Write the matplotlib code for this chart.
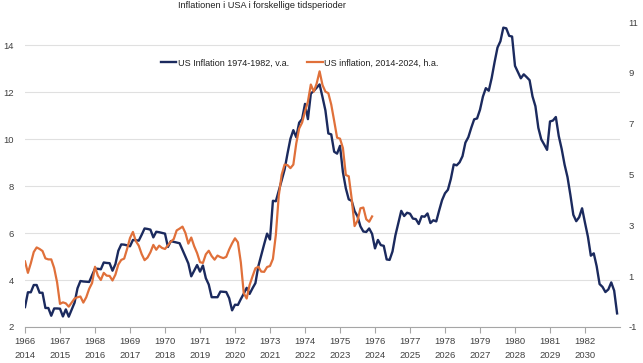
import matplotlib.pyplot as plt
import numpy as np

# US CPI inflation y/y, monthly, Jul 1966 - Jun 1983 (left axis)
us_infl_70s = [
    2.85, 3.48, 3.48, 3.79, 3.79, 3.46,
    3.46, 2.81, 2.81, 2.48, 2.79, 2.79, 2.78, 2.45, 2.75, 2.44, 2.74, 3.04,
    3.65, 3.96, 3.94, 3.93, 3.92, 4.20, 4.49, 4.48, 4.46, 4.75, 4.73, 4.72,
    4.40, 4.68, 5.25, 5.52, 5.51, 5.48, 5.44, 5.71, 5.70, 5.68, 5.93, 6.20,
    6.18, 6.15, 5.82, 6.06, 6.04, 6.01, 5.98, 5.41, 5.66, 5.63, 5.60, 5.57,
    5.29, 5.00, 4.71, 4.16, 4.40, 4.64, 4.36, 4.62, 4.08, 3.81, 3.27, 3.27,
    3.27, 3.51, 3.50, 3.49, 3.23, 2.71, 2.95, 2.94, 3.19, 3.42, 3.67, 3.41,
    3.65, 3.87, 4.59, 5.06, 5.53, 5.98, 5.73, 7.38, 7.36, 7.80, 8.25, 8.71,
    9.39, 10.02, 10.39, 10.09, 10.71, 10.86, 11.51, 10.86, 11.95, 12.06, 12.20, 12.34,
    11.80, 11.23, 10.25, 10.21, 9.47, 9.39, 9.72, 8.60, 7.91, 7.44, 7.38, 6.94,
    6.72, 6.29, 6.07, 6.05, 6.20, 5.97, 5.35, 5.71, 5.49, 5.46, 4.88, 4.86,
    5.22, 5.91, 6.44, 6.95, 6.73, 6.87, 6.83, 6.62, 6.60, 6.39, 6.72, 6.70,
    6.84, 6.43, 6.55, 6.50, 6.97, 7.41, 7.70, 7.85, 8.31, 8.93, 8.89, 9.02,
    9.28, 9.86, 10.09, 10.49, 10.85, 10.89, 11.26, 11.82, 12.18, 12.07, 12.61, 13.29,
    13.91, 14.18, 14.76, 14.73, 14.41, 14.38, 13.13, 12.87, 12.60, 12.77, 12.65, 12.52,
    11.83, 11.41, 10.49, 10.00, 9.78, 9.55, 10.76, 10.80, 10.95, 10.14, 9.59, 8.92,
    8.39, 7.62, 6.78, 6.51, 6.68, 7.06, 6.44, 5.85, 5.04, 5.14, 4.59, 3.83,
    3.71, 3.49, 3.60, 3.90, 3.55, 2.58,
]

# US CPI inflation y/y, monthly, Jan 2014 - Dec 2023 (right axis)
us_infl_recent = [
    1.58, 1.13, 1.51, 1.95, 2.13, 2.07, 1.99, 1.70, 1.66, 1.66, 1.32, 0.76,
    -0.09, -0.03, -0.07, -0.20, -0.04, 0.12, 0.17, 0.20, -0.04, 0.17, 0.50, 0.73,
    1.37, 1.02, 0.85, 1.13, 1.02, 1.01, 0.83, 1.06, 1.46, 1.64, 1.69, 2.07,
    2.50, 2.74, 2.38, 2.20, 1.87, 1.63, 1.73, 1.94, 2.23, 2.04, 2.20, 2.11,
    2.07, 2.21, 2.36, 2.46, 2.80, 2.87, 2.95, 2.70, 2.28, 2.52, 2.18, 1.91,
    1.55, 1.52, 1.86, 2.00, 1.79, 1.65, 1.81, 1.75, 1.71, 1.76, 2.05, 2.29,
    2.49, 2.33, 1.54, 0.33, 0.12, 0.65, 0.99, 1.31, 1.37, 1.18, 1.17, 1.36,
    1.40, 1.68, 2.62, 4.16, 4.99, 5.39, 5.37, 5.25, 5.39, 6.22, 6.81, 7.04,
    7.48, 7.87, 8.54, 8.26, 8.58, 9.06, 8.52, 8.26, 8.20, 7.75, 7.11, 6.45,
    6.41, 6.04, 4.98, 4.93, 4.05, 2.97, 3.18, 3.67, 3.70, 3.24, 3.14, 3.35,
]

years_old = list(range(1966, 1983))
years_new = list(range(2014, 2031))

plt.rcParams['font.family'] = ['Liberation Sans', 'DejaVu Sans']
plt.rcParams['axes.unicode_minus'] = False
TXT = '#404040'
NAVY = '#1B2A5E'
ORANGE = '#E0703A'

fig = plt.figure(figsize=(6.43, 3.63), dpi=100)
ax = fig.add_axes([25 / 643, 36 / 363, 595 / 643, 305 / 363])
ax2 = ax.twinx()

x_old = np.arange(len(us_infl_70s))
x_new = np.arange(len(us_infl_recent))
l1, = ax.plot(x_old, us_infl_70s, color=NAVY, lw=1.7, label='US Inflation 1974-1982, v.a.', zorder=3)
l2, = ax2.plot(x_new, us_infl_recent, color=ORANGE, lw=1.6, label='US inflation, 2014-2024, h.a.')

ax.set_xlim(0, 204)
ax.set_ylim(2, 15)
ax.set_yticks(np.arange(2, 15, 2))
ax2.set_ylim(-1, 11)
ax2.set_yticks(np.arange(-1, 12, 2))

ax.set_xticks(np.arange(0, 193, 12))
ax.set_xticklabels([f'{a}\n{b}' for a, b in zip(years_old, years_new)], linespacing=1.75)

ax.grid(axis='y', color='#e0e0e0', lw=0.8)
ax.set_axisbelow(True)
for a in (ax, ax2):
    for s in ('top', 'left', 'right'):
        a.spines[s].set_visible(False)
ax2.spines['bottom'].set_visible(False)
ax.spines['bottom'].set_color('#a6a6a6')
ax.tick_params(axis='x', colors='#a6a6a6', length=4, width=0.8, labelcolor=TXT, labelsize=6.8, pad=3)
ax.tick_params(axis='y', length=0, labelcolor=TXT, labelsize=6.8, pad=8)
ax2.tick_params(axis='y', length=0, labelcolor=TXT, labelsize=6.8, pad=6)

fig.text(262 / 643, 1 - 6 / 363, 'Inflationen i USA i forskellige tidsperioder',
         ha='center', va='center', fontsize=6.6, color='#202020')

ax.legend(handles=[l1, l2], loc='center', bbox_to_anchor=(0.462, 0.866), ncol=2,
          frameon=False, fontsize=6.5, handlelength=1.7, handletextpad=0.2,
          columnspacing=2.0, labelcolor='#202020')

fig.savefig('out.png', dpi=100)
